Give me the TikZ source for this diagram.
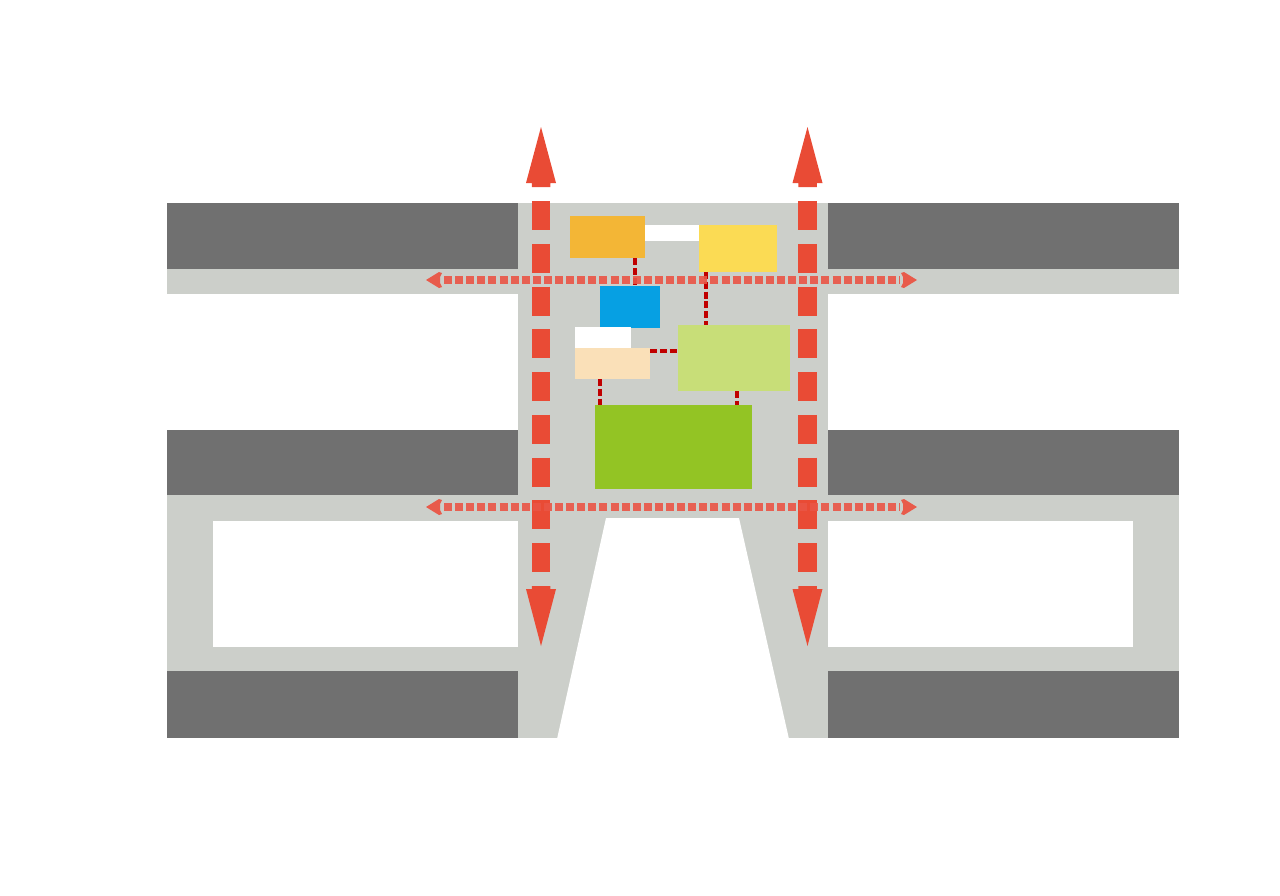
\documentclass[tikz,border=0pt]{standalone}
\usetikzlibrary{calc}
\definecolor{dk}{HTML}{707070}
\definecolor{lg}{HTML}{CCCFCA}
\definecolor{rd}{HTML}{E94B35}
\definecolor{hrd}{HTML}{EA5545}
\definecolor{cn}{HTML}{C00000}
\definecolor{orC}{HTML}{F3B636}
\definecolor{yeC}{HTML}{FBDB54}
\definecolor{blC}{HTML}{06A0E3}
\definecolor{beC}{HTML}{FAE0B8}
\definecolor{lgrC}{HTML}{C8DE78}
\definecolor{grC}{HTML}{93C424}
\tikzset{
  blk/.style={draw=none, inner sep=0pt, outer sep=0pt},
  conn/.style={draw=cn, line width=4.5pt, dash pattern=on 7pt off 2.8pt},
  vshaft/.style={draw=rd, line width=18.5pt, dash pattern=on 29pt off 13.75pt},
  hshaft/.style={draw=hrd, line width=8pt, dash pattern=on 8pt off 3.1pt, opacity=0.9},
}
\begin{document}
\begin{tikzpicture}[x=1pt,y=-1pt]
\useasboundingbox (0,0) rectangle (1280,895);
% light gray ground
\fill[lg] (167,203) rectangle (1179,294);
\fill[lg] (518,203) rectangle (828,738);
\fill[lg] (167,430) rectangle (1179,738);
% white cut-outs
\fill[white] (213,521) rectangle (518,647);
\fill[white] (828,521) rectangle (1133,647);
\fill[white] (606,518) -- (739,518) -- (789,739) -- (557,739) -- cycle;
% dark blocks
\fill[dk] (167,203) rectangle (518,269);
\fill[dk] (828,203) rectangle (1179,269);
\fill[dk] (167,430) rectangle (518,495);
\fill[dk] (828,430) rectangle (1179,495);
\fill[dk] (167,671) rectangle (518,738);
\fill[dk] (828,671) rectangle (1179,738);
% coloured blocks
\node[blk, fill=white, minimum width=56, minimum height=16] (wtop) at (672,233) {};
\node[blk, fill=orC, minimum width=75, minimum height=42] (orange) at (607.5,237) {};
\node[blk, fill=yeC, minimum width=78, minimum height=47] (yellow) at (738,248.5) {};
\node[blk, fill=blC, minimum width=60, minimum height=42] (blue) at (630,307) {};
\node[blk, fill=white, minimum width=56, minimum height=21] (wsmall) at (603,337.5) {};
\node[blk, fill=beC, minimum width=75, minimum height=31] (beige) at (612.5,363.5) {};
\node[blk, fill=lgrC, minimum width=112, minimum height=66] (lgreen) at (734,358) {};
\node[blk, fill=grC, minimum width=157, minimum height=84] (green) at (673.5,447) {};
% connectors
\draw[conn] ([xshift=27.5]orange.south) -- ([xshift=5]blue.north);
\draw[conn] ([xshift=-32]yellow.south) -- ([xshift=-28]lgreen.north);
\draw[conn] ([yshift=12.5]beige.east) -- ([yshift=12.5]beige.east -| lgreen.west);
\draw[conn] ([xshift=-12.5]beige.south) -- ([xshift=-12.5]beige.south |- green.north);
\draw[conn] ([xshift=3]lgreen.south) -- ([xshift=3]lgreen.south |- green.north);
% vertical red arrows
\coordinate (vlT) at (541,201);
\coordinate (vlB) at (541,572);
\coordinate (vrT) at (807.5,201);
\coordinate (vrB) at (807.5,572);
\draw[vshaft] (vlT) -- (vlB);
\draw[vshaft] (vrT) -- (vrB);
\foreach \c in {vlT,vrT}{
  \fill[rd] ($(\c)+(0,-74)$) -- ($(\c)+(15,-18)$) -- ($(\c)+(9.25,-18)$) -- ($(\c)+(9.25,-14)$)
    -- ($(\c)+(-9.25,-14)$) -- ($(\c)+(-9.25,-18)$) -- ($(\c)+(-15,-18)$) -- cycle;
}
\foreach \c in {vlB,vrB}{
  \fill[rd] ($(\c)+(0,74)$) -- ($(\c)+(15,17)$) -- ($(\c)+(9.25,17)$) -- ($(\c)+(9.25,14)$)
    -- ($(\c)+(-9.25,14)$) -- ($(\c)+(-9.25,17)$) -- ($(\c)+(-15,17)$) -- cycle;
}
% horizontal red arrows
\coordinate (h1L) at (444,280);
\coordinate (h1R) at (900,280);
\coordinate (h2L) at (444,507);
\coordinate (h2R) at (900,507);
\draw[hshaft] (h1L) -- (h1R);
\draw[hshaft] (h2L) -- (h2R);
\foreach \c in {h1L,h2L}{
  \fill[hrd, opacity=0.95] ($(\c)+(-18,0)$) -- ($(\c)+(-5,-8)$) -- ($(\c)+(-2,-7)$) -- ($(\c)+(-4,-3)$) -- ($(\c)+(-4,3)$) -- ($(\c)+(-2,7)$) -- ($(\c)+(-5,8)$) -- cycle;
}
\foreach \c in {h1R,h2R}{
  \fill[hrd, opacity=0.95] ($(\c)+(17,0)$) -- ($(\c)+(4,-8)$) -- ($(\c)+(1,-7)$) -- ($(\c)+(3,-3)$) -- ($(\c)+(3,3)$) -- ($(\c)+(1,7)$) -- ($(\c)+(4,8)$) -- cycle;
}
\end{tikzpicture}
\end{document}
